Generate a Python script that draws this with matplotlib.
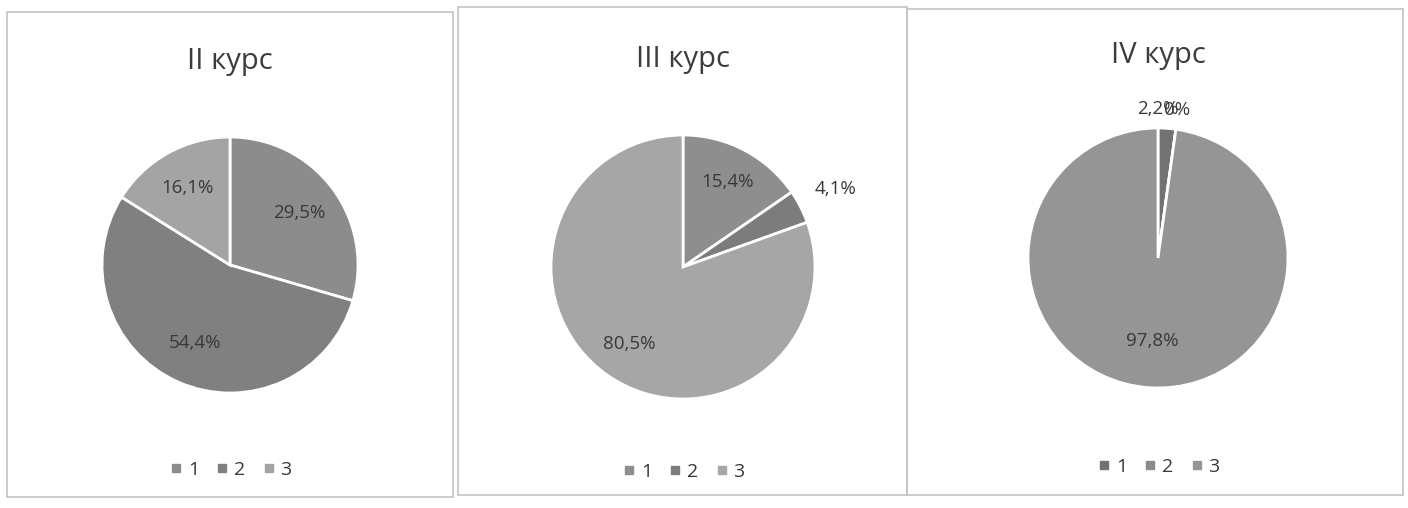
import matplotlib.pyplot as plt
import matplotlib.patches as mpatches
from matplotlib.lines import Line2D
import numpy as np

plt.rcParams["font.family"] = ["Open Sans", "DejaVu Sans"]

W, H = 1408, 508

titles = ["II курс", "III курс", "IV курс"]
categories = ["1", "2", "3"]
course2 = [29.5, 54.4, 16.1]
course3 = [15.4, 4.1, 80.5]
course4 = [2.2, 0.0, 97.8]
series = [course2, course3, course4]

# layout in pixels: frame (x0, y0, x1, y1), pie centre, radius, title y, legend y
frames = [(7, 12, 453, 497), (458, 7, 907, 495), (907, 9, 1403, 495)]
centers = [(230, 265), (683, 267), (1158, 258)]
radii = [128, 132, 130]
title_y = [62, 60, 55]
legend_y = [470, 472, 467]
label_dist = [[0.68, 0.67, 0.69], [0.73, 1.30, 0.71], [1.15, 1.15, 0.64]]
label_dx = [[0, 0, 0], [0, 0, 0], [-10, -2, 0]]
palettes = [["#8c8c8c", "#808080", "#a4a4a4"],
            ["#8e8e8e", "#7c7c7c", "#a6a6a6"],
            ["#727272", "#8a8a8a", "#959595"]]

text_col = "#383838"


def fmt(v):
    if v == 0:
        return "0%"
    return f"{v:.1f}%".replace(".", ",")


fig = plt.figure(figsize=(W / 100, H / 100), dpi=100)
fig.patch.set_facecolor("white")

for i, vals in enumerate(series):
    x0, y0, x1, y1 = frames[i]
    fig.patches.append(mpatches.Rectangle((x0 / W, 1 - y1 / H), (x1 - x0) / W, (y1 - y0) / H,
                                          transform=fig.transFigure, fill=False,
                                          edgecolor="#c4c4c4", lw=1.2))
    cx, cy = centers[i]
    r = radii[i]
    ax = fig.add_axes([(cx - r) / W, (H - cy - r) / H, 2 * r / W, 2 * r / H])
    ax.pie(vals, colors=palettes[i], startangle=90, counterclock=False, radius=1,
           wedgeprops=dict(edgecolor="white", linewidth=2))
    ax.set_xlim(-1, 1)
    ax.set_ylim(-1, 1)
    ax.set_aspect("equal")
    ax.axis("off")

    cum = 0.0
    for j, v in enumerate(vals):
        ang = np.deg2rad(90 - 360 * (cum + v / 2) / 100)
        cum += v
        d = label_dist[i][j]
        lx = d * np.cos(ang) + label_dx[i][j] / r
        ly = d * np.sin(ang)
        ax.text(lx, ly, fmt(v), ha="center", va="center", fontsize=13.5,
                color=text_col, clip_on=False)

    fig.text(cx / W, 1 - title_y[i] / H, titles[i], ha="center", va="center",
             fontsize=21, color="#3c3c3c")

    handles = [Line2D([], [], marker="s", linestyle="none", markersize=5.5,
                      color=palettes[i][k]) for k in range(3)]
    fig.legend(handles, categories, loc="center", bbox_to_anchor=(cx / W, 1 - legend_y[i] / H),
               ncol=3, frameon=False, fontsize=14, handletextpad=0.2, columnspacing=0.8,
               handlelength=0.8, labelcolor=text_col)

fig.savefig("out.png", dpi=100, facecolor="white")
